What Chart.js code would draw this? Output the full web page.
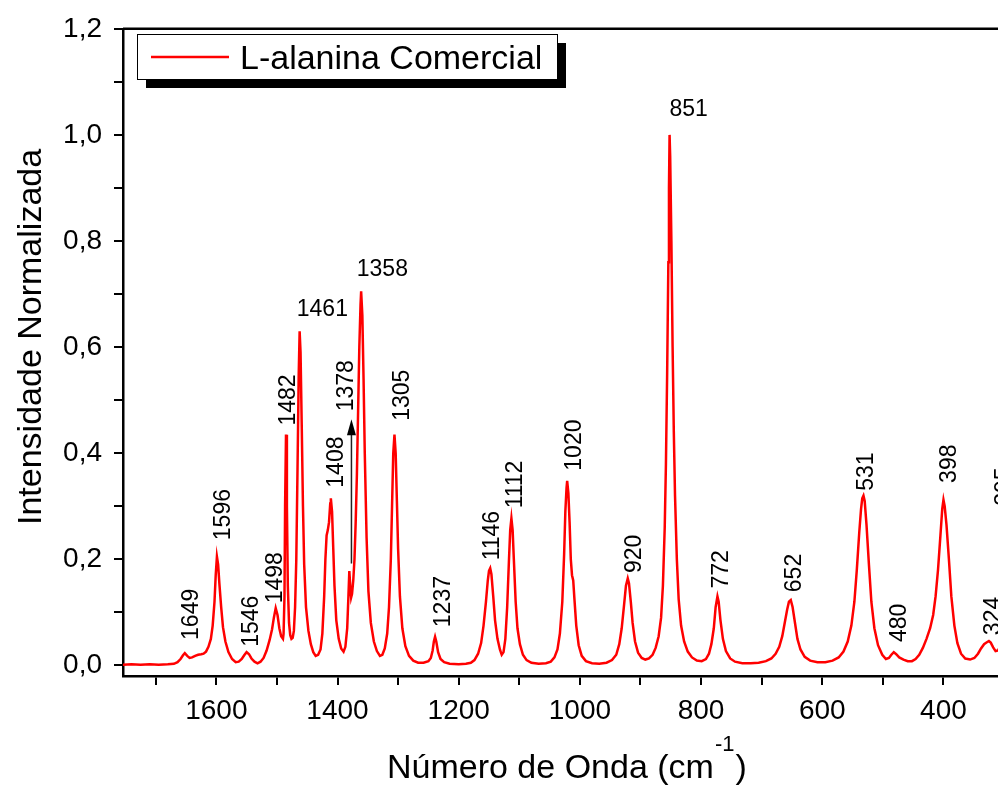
<!DOCTYPE html>
<html>
<head>
<meta charset="utf-8">
<title>L-alanina Comercial - Raman</title>
<script src="https://cdn.jsdelivr.net/npm/chart.js@4.4.1/dist/chart.umd.min.js"></script>
<style>
  html, body { margin: 0; padding: 0; background: #fff; }
  #wrap { width: 998px; height: 785px; }
</style>
</head>
<body>
<div id="wrap"><canvas id="spectrum" width="998" height="785"></canvas></div>
<script>
// Raman spectrum (cm-1 vs normalised intensity)
const wavenumbers = [
  1754, 1740, 1725, 1710, 1695, 1680, 1670, 1664, 1659, 1655, 1652, 1648, 1644, 1640, 1635, 1630,
  1625, 1621, 1617, 1613, 1609, 1606, 1603, 1601, 1599, 1597, 1595, 1592, 1589, 1585, 1580, 1574,
  1568, 1563, 1558, 1554, 1550, 1546, 1542, 1537, 1532, 1527, 1522, 1517, 1512, 1508, 1505, 1502,
  1499, 1496, 1493, 1490, 1489, 1487.5, 1486.5, 1485, 1483.5, 1482, 1480, 1478, 1476, 1474, 1472,
  1470, 1468, 1466, 1464, 1462.5, 1461, 1459, 1457, 1455, 1452, 1448, 1444, 1440, 1436, 1432, 1428,
  1425, 1422, 1420, 1418, 1416, 1414, 1412, 1411, 1409, 1407, 1405, 1402, 1398, 1394, 1390, 1387,
  1384, 1382, 1380.5, 1379, 1377.5, 1376, 1374, 1372, 1370, 1368, 1366, 1364, 1362, 1361, 1359,
  1357, 1355, 1352, 1349, 1345, 1340, 1335, 1330, 1326, 1322, 1318, 1315, 1312, 1310, 1308, 1306,
  1304, 1302, 1300, 1297, 1293, 1288, 1282, 1275, 1267, 1258, 1250, 1246, 1243, 1241, 1239, 1237,
  1234, 1230, 1224, 1215, 1200, 1188, 1180, 1174, 1168, 1163, 1159, 1155, 1152, 1150, 1148, 1146,
  1143, 1140, 1136, 1132, 1129, 1126, 1123, 1120, 1117, 1115, 1113, 1111, 1109, 1106, 1103, 1099,
  1094, 1088, 1080, 1068, 1056, 1048, 1042, 1037, 1033, 1029, 1026, 1024, 1022, 1021, 1019, 1017,
  1015, 1013, 1011, 1009, 1006, 1002, 997, 990, 980, 968, 956, 947, 940, 935, 931, 927, 924, 921,
  919, 916, 913, 909, 904, 898, 892, 886, 880, 875, 870, 866, 863, 860, 858, 856, 854, 853, 852,
  851, 849, 847, 845, 843, 840, 837, 833, 828, 822, 815, 807, 799, 792, 787, 783, 779, 776, 773,
  771, 768, 764, 759, 752, 744, 732, 718, 705, 693, 684, 677, 671, 666, 662, 658, 655, 652, 649,
  645, 641, 636, 629, 620, 608, 595, 583, 573, 565, 558, 552, 547, 543, 539, 536, 534, 532, 530,
  527, 523, 519, 514, 508, 501, 495, 490, 486, 482, 478, 473, 466, 459, 452, 446, 440, 434, 428,
  422, 417, 413, 409, 405, 402, 400, 398, 395, 391, 387, 382, 377, 371, 364, 356, 349, 343, 338,
  333, 329, 325, 322, 318, 314, 310, 305
];
const intensities = [
  0.001, 0.002, 0.001, 0.002, 0.001, 0.002, 0.003, 0.006, 0.012, 0.019, 0.023, 0.018, 0.014, 0.015, 0.018, 0.020,
  0.021, 0.022, 0.026, 0.035, 0.050, 0.075, 0.120, 0.170, 0.205, 0.190, 0.155, 0.110, 0.072, 0.045, 0.025, 0.012,
  0.006, 0.007, 0.012, 0.019, 0.025, 0.021, 0.013, 0.007, 0.004, 0.007, 0.014, 0.028, 0.048, 0.068, 0.090, 0.108,
  0.095, 0.070, 0.055, 0.050, 0.060, 0.130, 0.300, 0.435, 0.300, 0.150, 0.080, 0.057, 0.050, 0.052, 0.065,
  0.110, 0.200, 0.370, 0.550, 0.630, 0.590, 0.450, 0.300, 0.190, 0.110, 0.065, 0.040, 0.025, 0.018, 0.020, 0.030,
  0.060, 0.130, 0.200, 0.245, 0.255, 0.270, 0.305, 0.315, 0.290, 0.220, 0.150, 0.085, 0.050, 0.032, 0.026, 0.035,
  0.070, 0.130, 0.178, 0.150, 0.128, 0.135, 0.160, 0.200, 0.270, 0.360, 0.480, 0.600, 0.680, 0.705, 0.660,
  0.540, 0.400, 0.240, 0.140, 0.080, 0.045, 0.027, 0.018, 0.020, 0.032, 0.060, 0.110, 0.200, 0.300, 0.400, 0.435,
  0.400, 0.310, 0.220, 0.130, 0.070, 0.036, 0.018, 0.009, 0.005, 0.005, 0.008, 0.014, 0.028, 0.045, 0.054, 0.045,
  0.025, 0.012, 0.006, 0.003, 0.002, 0.003, 0.005, 0.010, 0.022, 0.042, 0.075, 0.120, 0.160, 0.178, 0.183, 0.172,
  0.130, 0.085, 0.050, 0.030, 0.020, 0.025, 0.050, 0.110, 0.200, 0.255, 0.277, 0.255, 0.200, 0.120, 0.070, 0.040,
  0.020, 0.010, 0.005, 0.003, 0.004, 0.007, 0.015, 0.030, 0.060, 0.120, 0.210, 0.290, 0.335, 0.348, 0.325, 0.270,
  0.200, 0.170, 0.160, 0.125, 0.075, 0.038, 0.018, 0.008, 0.004, 0.003, 0.005, 0.010, 0.020, 0.040, 0.070, 0.115, 0.150, 0.164,
  0.155, 0.120, 0.080, 0.045, 0.024, 0.014, 0.011, 0.013, 0.020, 0.033, 0.055, 0.090, 0.150, 0.260, 0.380, 0.550, 0.760, 0.900, 1.000,
  0.960, 0.800, 0.600, 0.440, 0.320, 0.200, 0.125, 0.075, 0.045, 0.026, 0.015, 0.009, 0.008, 0.012, 0.022, 0.040, 0.070, 0.110, 0.130,
  0.120, 0.085, 0.050, 0.027, 0.013, 0.007, 0.004, 0.004, 0.005, 0.008, 0.013, 0.022, 0.035, 0.055, 0.080, 0.105, 0.120, 0.123, 0.110,
  0.080, 0.050, 0.030, 0.016, 0.009, 0.006, 0.006, 0.009, 0.015, 0.026, 0.045, 0.075, 0.120, 0.180, 0.250, 0.295, 0.315, 0.320, 0.310,
  0.265, 0.190, 0.120, 0.070, 0.038, 0.020, 0.012, 0.014, 0.020, 0.025, 0.021, 0.015, 0.011, 0.008, 0.008, 0.012, 0.020, 0.033, 0.050,
  0.070, 0.095, 0.130, 0.180, 0.245, 0.295, 0.312, 0.300, 0.265, 0.200, 0.130, 0.075, 0.042, 0.022, 0.013, 0.011, 0.014, 0.022, 0.032,
  0.040, 0.043, 0.046, 0.043, 0.034, 0.027, 0.028, 0.040
];

const seriesName = "L-alanina Comercial";
const peakLabels = ["1649", "1596", "1546", "1498", "1482", "1461", "1408", "1378", "1358", "1305",
  "1237", "1146", "1112", "1020", "920", "851", "772", "652", "531", "480", "398", "324", "295"];
const xTickValues = [1700, 1600, 1500, 1400, 1300, 1200, 1100, 1000, 900, 800, 700, 600, 500, 400];
const yTickValues = [0, 0.1, 0.2, 0.3, 0.4, 0.5, 0.6, 0.7, 0.8, 0.9, 1.0, 1.1, 1.2];

// where each peak label sits, in axis units (w = cm-1, i = intensity)
const labelPlacement = {
  "1649": { w: 1643, i: 0.048, rot: true },
  "1596": { w: 1590, i: 0.236, rot: true },
  "1546": { w: 1544, i: 0.035, rot: true },
  "1498": { w: 1504, i: 0.117, rot: true },
  "1482": { w: 1484, i: 0.452, rot: true },
  "1461": { w: 1425, i: 0.671, rot: false },
  "1408": { w: 1403.5, i: 0.335, rot: true },
  "1378": { w: 1387, i: 0.479, rot: true },
  "1358": { w: 1326, i: 0.746, rot: false },
  "1305": { w: 1296, i: 0.461, rot: true },
  "1237": { w: 1227, i: 0.072, rot: true },
  "1146": { w: 1146, i: 0.198, rot: true },
  "1112": { w: 1108, i: 0.296, rot: true },
  "1020": { w: 1012, i: 0.367, rot: true },
  "920": { w: 913, i: 0.174, rot: true },
  "851": { w: 820.6, i: 1.048, rot: false },
  "772": { w: 769.4, i: 0.145, rot: true },
  "652": { w: 649, i: 0.138, rot: true },
  "531": { w: 530, i: 0.329, rot: true },
  "480": { w: 475.5, i: 0.044, rot: true },
  "398": { w: 393, i: 0.344, rot: true },
  "324": { w: 320.3, i: 0.057, rot: true },
  "295": { w: 302, i: 0.301, rot: true }
};
const arrowAt = { w: 1377, from: 0.192, to: 0.464 };

const FONT = '"Liberation Sans", Arial, sans-serif';

function fmtComma(v) {
  return v.toFixed(1).replace(".", ",");
}

function drawArrow(ctx, x, y) {
  const px = x.getPixelForValue(arrowAt.w);
  const y0 = y.getPixelForValue(arrowAt.from);
  const y1 = y.getPixelForValue(arrowAt.to);
  ctx.strokeStyle = "#222";
  ctx.lineWidth = 1.5;
  ctx.beginPath();
  ctx.moveTo(px, y0);
  ctx.lineTo(px, y1 + 12);
  ctx.stroke();
  ctx.fillStyle = "#000";
  ctx.beginPath();
  ctx.moveTo(px, y1);
  ctx.lineTo(px - 4.5, y1 + 16);
  ctx.lineTo(px + 4.5, y1 + 16);
  ctx.closePath();
  ctx.fill();
}

function drawPeakLabels(ctx, x, y) {
  ctx.font = "23px " + FONT;
  ctx.fillStyle = "#000";
  peakLabels.forEach((lbl) => {
    const p = labelPlacement[lbl];
    const px = x.getPixelForValue(p.w);
    const py = y.getPixelForValue(p.i);
    if (p.rot) {
      ctx.save();
      ctx.translate(px + 8, py);
      ctx.rotate(-Math.PI / 2);
      ctx.textAlign = "left";
      ctx.textBaseline = "alphabetic";
      ctx.fillText(lbl, 0, 0);
      ctx.restore();
    } else {
      ctx.textAlign = "center";
      ctx.textBaseline = "middle";
      ctx.fillText(lbl, px, py);
    }
  });
}

function drawLegend(ctx, chart) {
  const box = { x: 137, y: 34, w: 420, h: 45 };
  ctx.fillStyle = "#000";
  ctx.fillRect(box.x + 9, box.y + 9, box.w, box.h);
  ctx.fillStyle = "#fff";
  ctx.fillRect(box.x, box.y, box.w, box.h);
  ctx.strokeStyle = "#000";
  ctx.lineWidth = 1;
  ctx.strokeRect(box.x + 0.5, box.y + 0.5, box.w, box.h);
  const ds = chart.data.datasets[0];
  ctx.strokeStyle = ds.borderColor;
  ctx.lineWidth = 2.5;
  ctx.beginPath();
  ctx.moveTo(box.x + 14, box.y + 23);
  ctx.lineTo(box.x + 92, box.y + 23);
  ctx.stroke();
  ctx.fillStyle = "#000";
  ctx.font = "34px " + FONT;
  ctx.textAlign = "left";
  ctx.textBaseline = "alphabetic";
  ctx.fillText(ds.label, box.x + 103, box.y + 35);
}

function drawAxisTitles(ctx) {
  ctx.fillStyle = "#000";
  ctx.textBaseline = "alphabetic";
  ctx.textAlign = "left";
  // x title with superscript
  ctx.font = "34px " + FONT;
  const main = "Número de Onda (cm";
  let cx = 387;
  ctx.fillText(main, cx, 778);
  cx += ctx.measureText(main).width;
  ctx.font = "22px " + FONT;
  ctx.fillText("-1", cx + 1, 751);
  cx += ctx.measureText("-1").width + 2;
  ctx.font = "34px " + FONT;
  ctx.fillText(")", cx, 778);
  // y title
  ctx.save();
  ctx.translate(41, 525);
  ctx.rotate(-Math.PI / 2);
  ctx.font = "34px " + FONT;
  ctx.fillText("Intensidade Normalizada", 0, 0);
  ctx.restore();
}

const decorPlugin = {
  id: "decor",
  afterDraw(chart) {
    const { ctx, chartArea, scales } = chart;
    ctx.save();
    // top frame line
    ctx.strokeStyle = "#000";
    ctx.lineWidth = 2.5;
    ctx.beginPath();
    ctx.moveTo(chartArea.left, chartArea.top);
    ctx.lineTo(chart.width, chartArea.top);
    ctx.stroke();
    drawArrow(ctx, scales.x, scales.y);
    drawPeakLabels(ctx, scales.x, scales.y);
    drawLegend(ctx, chart);
    drawAxisTitles(ctx);
    ctx.restore();
  }
};

function buildChart() {
  const points = wavenumbers.map((w, k) => ({ x: w, y: intensities[k] }));
  new Chart(document.getElementById("spectrum"), {
    type: "line",
    data: {
      datasets: [{
        label: seriesName,
        data: points,
        borderColor: "#ff0000",
        borderWidth: 2.5,
        pointRadius: 0,
        tension: 0,
        fill: false
      }]
    },
    options: {
      responsive: false,
      animation: false,
      devicePixelRatio: 1,
      layout: { padding: { top: 26, left: 0, right: 0, bottom: 0 } },
      plugins: { legend: { display: false }, tooltip: { enabled: false } },
      scales: {
        x: {
          type: "linear",
          reverse: true,
          min: 310,
          max: 1754,
          afterBuildTicks: (s) => { s.ticks = xTickValues.map((v) => ({ value: v })); },
          afterFit: (s) => { s.height = 109; },
          ticks: {
            color: "#000",
            font: { size: 28, family: FONT },
            padding: 9,
            maxRotation: 0,
            autoSkip: false,
            callback: (v) => (v % 200 === 0 ? String(v) : "")
          },
          grid: { drawOnChartArea: false, drawTicks: true, tickLength: 9, color: "#000", lineWidth: 2 },
          border: { display: true, color: "#000", width: 2.5 }
        },
        y: {
          min: -0.02,
          max: 1.2,
          afterBuildTicks: (s) => { s.ticks = yTickValues.map((v) => ({ value: v })); },
          afterFit: (s) => { s.width = 123; },
          ticks: {
            color: "#000",
            font: { size: 28, family: FONT },
            padding: 12,
            autoSkip: false,
            callback: (v) => (Math.round(v * 10) % 2 === 0 ? fmtComma(v) : "")
          },
          grid: { drawOnChartArea: false, drawTicks: true, tickLength: 9, color: "#000", lineWidth: 2 },
          border: { display: true, color: "#000", width: 2.5 }
        }
      }
    },
    plugins: [decorPlugin]
  });
}

document.addEventListener("DOMContentLoaded", buildChart);
</script>
</body>
</html>
